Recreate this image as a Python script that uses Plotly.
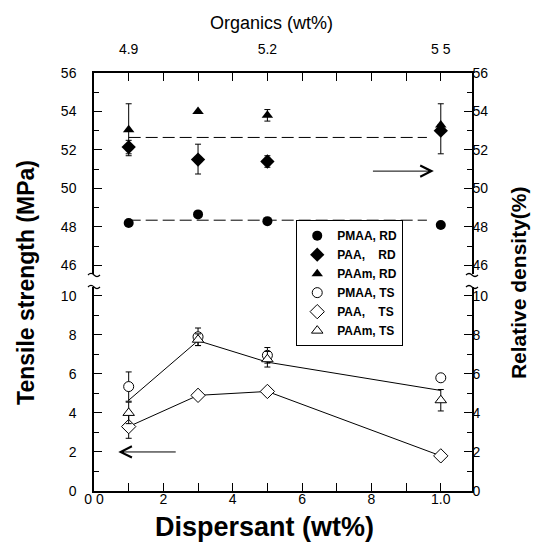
import plotly.graph_objects as go

# ---------------- data ----------------
dispersant = [0.1, 0.3, 0.5, 1.0]

pmaa_rd = [48.2, 48.65, 48.3, 48.1]
paa_rd = [52.15, 51.5, 51.4, 53.0]
paa_rd_err_plus = [0.35, 0.8, 0.3, 1.4]
paa_rd_err_minus = [0.35, 0.75, 0.3, 1.2]
paam_rd = [53.05, 54.0, 53.8, 53.3]
paam_rd_err = [1.35, None, 0.3, None]

pmaa_ts = [5.35, 7.9, 6.95, 5.8]
pmaa_ts_err = [0.75, 0.45, 0.4, None]
paa_ts = [3.3, 4.9, 5.1, 1.8]
paa_ts_err = [0.6, None, None, None]
paam_ts = [4.0, 7.75, 6.75, 4.65]
paam_ts_err = [0.55, 0.3, 0.4, 0.55]

ts_trend = [4.65, 7.7, 6.6, 5.15]
fit_x = [0.1, 0.96]
rd_fit_high = [52.65, 52.65]
rd_fit_low = [48.35, 48.35]

bottom_tickvals = [0.0, 0.1, 0.2, 0.3, 0.4, 0.5, 0.6, 0.7, 0.8, 0.9, 1.0]
bottom_ticktext = ["0 0", "", "2", "", "4", "", "6", "", "8", "", "1.0"]
top_tickvals = [0.1, 0.2, 0.3, 0.4, 0.5, 0.6, 0.7, 0.8, 0.9, 1.0]
top_ticktext = ["4.9", "", "", "", "5.2", "", "", "", "", "5 5"]

FONT = "Liberation Sans, Arial, sans-serif"
BLK = "black"

fig = go.Figure()

# dashed fit lines (upper panel)
for yy in (rd_fit_high, rd_fit_low):
    fig.add_trace(go.Scatter(x=fit_x, y=yy, mode="lines", xaxis="x", yaxis="y",
                             line=dict(color=BLK, width=1, dash="12px,5px"),
                             showlegend=False, hoverinfo="skip"))

# solid trend lines (lower panel)
fig.add_trace(go.Scatter(x=dispersant, y=ts_trend, mode="lines", xaxis="x", yaxis="y2",
                         line=dict(color=BLK, width=1), showlegend=False, hoverinfo="skip"))
fig.add_trace(go.Scatter(x=dispersant, y=paa_ts, mode="lines", xaxis="x", yaxis="y2",
                         line=dict(color=BLK, width=1), showlegend=False, hoverinfo="skip"))

def eb(arr, minus=None):
    d = dict(type="data", array=arr, color=BLK, thickness=1, width=3, visible=True)
    if minus is not None:
        d["symmetric"] = False
        d["arrayminus"] = minus
    return d

# RD (filled)
fig.add_trace(go.Scatter(x=dispersant, y=pmaa_rd, mode="markers", xaxis="x", yaxis="y",
                         name="<b>PMAA, RD</b>",
                         marker=dict(symbol="circle", size=10, color=BLK)))
fig.add_trace(go.Scatter(x=dispersant, y=paa_rd, mode="markers", xaxis="x", yaxis="y",
                         name="<b>PAA,\u00a0\u00a0\u00a0\u00a0RD</b>",
                         error_y=eb(paa_rd_err_plus, paa_rd_err_minus),
                         marker=dict(symbol="diamond", size=11, color=BLK)))
fig.add_trace(go.Scatter(x=dispersant, y=paam_rd, mode="markers", xaxis="x", yaxis="y",
                         name="<b>PAAm, RD</b>",
                         error_y=eb(paam_rd_err),
                         marker=dict(symbol="triangle-up", size=10, color=BLK)))

# TS (open)
open_marker = lambda s, sz: dict(symbol=s, size=sz, color="white", line=dict(color=BLK, width=1))
fig.add_trace(go.Scatter(x=dispersant, y=pmaa_ts, mode="markers", xaxis="x", yaxis="y2",
                         name="<b>PMAA, TS</b>", error_y=eb(pmaa_ts_err),
                         marker=open_marker("circle", 10)))
fig.add_trace(go.Scatter(x=dispersant, y=paa_ts, mode="markers", xaxis="x", yaxis="y2",
                         name="<b>PAA,\u00a0\u00a0\u00a0\u00a0TS</b>", error_y=eb(paa_ts_err),
                         marker=open_marker("diamond", 11)))
fig.add_trace(go.Scatter(x=dispersant, y=paam_ts, mode="markers", xaxis="x", yaxis="y2",
                         name="<b>PAAm, TS</b>", error_y=eb(paam_ts_err),
                         marker=open_marker("triangle-up", 10)))

# invisible traces so the extra axes render
fig.add_trace(go.Scatter(x=[None], y=[None], xaxis="x2", yaxis="y", showlegend=False))
fig.add_trace(go.Scatter(x=[None], y=[None], xaxis="x", yaxis="y3", showlegend=False))
fig.add_trace(go.Scatter(x=[None], y=[None], xaxis="x", yaxis="y4", showlegend=False))

ax_common = dict(showline=True, linecolor=BLK, linewidth=1.5, ticks="inside",
                 tickcolor=BLK, tickwidth=1.2, showgrid=False, zeroline=False,
                 tickfont=dict(family=FONT, size=14, color=BLK))

up_dom = [0.519, 1.0]
lo_dom = [0.0, 0.488]
up_rng = [45.55, 56]
lo_rng = [0, 10.45]
ymin = dict(dtick=1, ticks="inside", ticklen=5, tickcolor=BLK)

fig.update_layout(
    width=543, height=549,
    margin=dict(l=86, r=79, t=65, b=66),
    paper_bgcolor="white", plot_bgcolor="white",
    font=dict(family=FONT, color=BLK),
    xaxis=dict(**ax_common, range=[0, 1.09], domain=[0, 1], anchor="y2",
               tickmode="array", tickvals=bottom_tickvals, ticktext=bottom_ticktext,
               ticklen=8, ticklabelstandoff=-6),
    xaxis2=dict(**ax_common, range=[0, 1.09], overlaying="x", anchor="y", side="top",
                tickmode="array", tickvals=top_tickvals, ticktext=top_ticktext,
                ticklen=8, ticklabelstandoff=12),
    yaxis=dict(**ax_common, domain=up_dom, range=up_rng, anchor="x",
               tick0=46, dtick=2, ticklen=8, minor=ymin, ticklabelstandoff=13),
    yaxis2=dict(**ax_common, domain=lo_dom, range=lo_rng, anchor="x",
                tick0=0, dtick=2, ticklen=8, minor=ymin, ticklabelstandoff=13),
    yaxis3=dict(**ax_common, range=up_rng, overlaying="y", side="right", anchor="x",
                tick0=46, dtick=2, ticklen=8, minor=ymin, ticklabelstandoff=-4),
    yaxis4=dict(**ax_common, range=lo_rng, overlaying="y2", side="right", anchor="x",
                tick0=0, dtick=2, ticklen=8, minor=ymin, ticklabelstandoff=-4),
    legend=dict(x=0.535, y=0.648, xanchor="left", yanchor="top",
                bordercolor=BLK, borderwidth=1, bgcolor="white",
                font=dict(family=FONT, size=12, color=BLK),
                tracegroupgap=0, itemsizing="trace"),
    showlegend=True,
)

# axis titles
fig.add_annotation(text="<b>Tensile strength (MPa)</b>", xref="paper", yref="paper",
                   x=-0.18, y=0.5, xanchor="center", yanchor="middle",
                   textangle=-90, showarrow=False,
                   font=dict(family=FONT, size=23, color=BLK))
fig.add_annotation(text="<b>Relative density(%)</b>", xref="paper", yref="paper",
                   x=1.125, y=0.498, xanchor="center", yanchor="middle",
                   textangle=-90, showarrow=False,
                   font=dict(family=FONT, size=21, color=BLK))
fig.add_annotation(text="<b>Dispersant (wt%)</b>", xref="paper", yref="paper",
                   x=0.45, y=-0.085, xanchor="center", yanchor="middle",
                   showarrow=False, font=dict(family=FONT, size=27, color=BLK))
fig.add_annotation(text="Organics (wt%)", xref="paper", yref="paper",
                   x=0.47, y=1.12, xanchor="center", yanchor="middle",
                   showarrow=False, font=dict(family=FONT, size=18, color=BLK))

# arrows
fig.add_annotation(x=0.98, y=50.9, ax=0.80, ay=50.9, xref="x", yref="y",
                   axref="x", ayref="y", showarrow=True, arrowhead=5,
                   arrowsize=2.2, arrowwidth=1, arrowcolor=BLK, text="")
fig.add_annotation(x=0.07, y=2.0, ax=0.24, ay=2.0, xref="x", yref="y2",
                   axref="x", ayref="y2", showarrow=True, arrowhead=5,
                   arrowsize=2.2, arrowwidth=1, arrowcolor=BLK, text="")

# axis break marks
W, H = 378.0, 418.0
def squiggle(xp, ypix):
    y = (483 - ypix) / H
    dx = 6 / W
    dy = 3 / H
    return (f"M {xp - dx},{y} Q {xp - dx/2},{y + dy} {xp},{y} "
            f"Q {xp + dx/2},{y - dy} {xp + dx},{y}")
for xp in (0.0, 1.0):
    for ypix in (267, 279):
        fig.add_shape(type="path", xref="paper", yref="paper",
                      path=squiggle(xp, ypix), line=dict(color=BLK, width=1.2))

fig.write_html("out.html")
